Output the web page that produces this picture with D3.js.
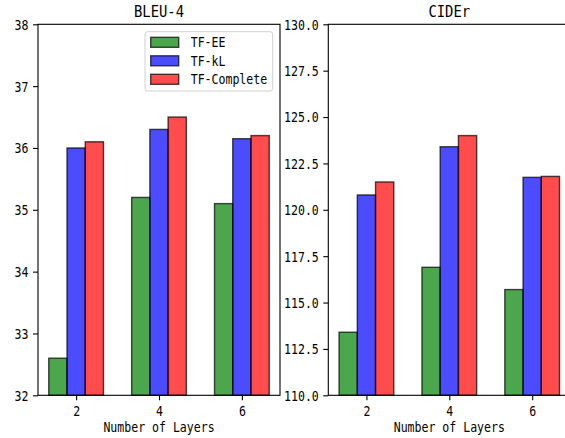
<!DOCTYPE html>
<html>
<head>
<meta charset="utf-8">
<script src="https://cdn.jsdelivr.net/npm/d3@7"></script>
<style>
  html, body { margin: 0; padding: 0; background: #fff; }
  svg { display: block; }
  text { font-family: "DejaVu Sans Mono", "Liberation Mono", monospace; fill: #000; }
</style>
</head>
<body>
<svg id="chart" width="565" height="438"></svg>
<script>
// ---- data ----
const layers = [2, 4, 6];
const seriesNames = ["TF-EE", "TF-kL", "TF-Complete"];
const seriesColors = ["green", "blue", "red"];
const bleuEE = [32.6, 35.2, 35.1];
const bleuKL = [36.0, 36.3, 36.15];
const bleuComplete = [36.1, 36.5, 36.2];
const ciderEE = [113.4, 116.9, 115.7];
const ciderKL = [120.8, 123.4, 121.75];
const ciderComplete = [121.5, 124.0, 121.8];
const bleuTicks = [32, 33, 34, 35, 36, 37, 38];
const ciderTicks = [110.0, 112.5, 115.0, 117.5, 120.0, 122.5, 125.0, 127.5, 130.0];
const panelTitles = ["BLEU-4", "CIDEr"];
const xLabel = "Number of Layers";

const barWidth = 0.44;
const svg = d3.select("#chart");

function fitText(sel, size) {
  sel.style("font-size", size + "px")
     .attr("textLength", function() { return this.textContent.length * size * 0.5; })
     .attr("lengthAdjust", "spacingAndGlyphs");
}

function panel(opts) {
  const { left, right, top, bottom, yDomain, yTicks, yFmt, series, title } = opts;
  const g = svg.append("g");
  const x = d3.scaleLinear().domain([1.08, 6.92]).range([left, right]);
  const y = d3.scaleLinear().domain(yDomain).range([bottom, top]);

  series.forEach((vals, si) => {
    const off = (si - 1) * barWidth;
    g.selectAll(null).data(layers.map((l, i) => ({ l, v: vals[i] })))
      .enter().append("rect")
      .attr("x", d => x(d.l + off - barWidth / 2))
      .attr("width", d => x(d.l + off + barWidth / 2) - x(d.l + off - barWidth / 2))
      .attr("y", d => y(d.v))
      .attr("height", d => y(yDomain[0]) - y(d.v))
      .attr("fill", seriesColors[si])
      .attr("fill-opacity", 0.7)
      .attr("stroke", "#000")
      .attr("stroke-opacity", 0.7)
      .attr("stroke-width", 1.4);
  });

  // spines
  g.append("rect").attr("x", left).attr("y", top)
    .attr("width", right - left).attr("height", bottom - top)
    .attr("fill", "none").attr("stroke", "#000").attr("stroke-width", 1.1);

  const yAxis = g.append("g").attr("transform", `translate(${left},0)`)
    .call(d3.axisLeft(y).tickValues(yTicks).tickFormat(yFmt).tickSize(5).tickPadding(4.5));
  yAxis.select(".domain").remove();
  yAxis.selectAll("line").attr("stroke", "#000").attr("stroke-width", 1.1);
  yAxis.selectAll("text").attr("dy", "0.35em").call(fitText, 13.9);

  const xAxis = g.append("g").attr("transform", `translate(0,${bottom})`)
    .call(d3.axisBottom(x).tickValues(layers).tickFormat(d3.format("d")).tickSize(5).tickPadding(5));
  xAxis.select(".domain").remove();
  xAxis.selectAll("line").attr("stroke", "#000").attr("stroke-width", 1.1);
  xAxis.selectAll("text").attr("dy", "0.75em").call(fitText, 13.9);

  g.append("text").attr("x", (left + right) / 2).attr("y", 432)
    .attr("text-anchor", "middle").text(xLabel).call(fitText, 13.9);

  g.append("text").attr("x", (left + right) / 2).attr("y", 16.5)
    .attr("text-anchor", "middle").text(title).call(fitText, 16.67);
  return g;
}

panel({ left: 38, right: 280, top: 24.3, bottom: 395.3, yDomain: [32, 38], yTicks: bleuTicks,
        yFmt: d3.format("d"), series: [bleuEE, bleuKL, bleuComplete], title: panelTitles[0] });
panel({ left: 328.3, right: 570.3, top: 24.3, bottom: 395.3, yDomain: [110, 130], yTicks: ciderTicks,
        yFmt: d3.format(".1f"), series: [ciderEE, ciderKL, ciderComplete], title: panelTitles[1] });

// legend
const lg = svg.append("g");
lg.append("rect").attr("x", 145).attr("y", 31.7).attr("width", 127.7).attr("height", 59.3)
  .attr("rx", 2.5).attr("fill", "#fff").attr("fill-opacity", 0.8)
  .attr("stroke", "#d0d0d0").attr("stroke-width", 1);
seriesNames.forEach((name, i) => {
  const cy = 42.3 + i * 18.5;
  lg.append("rect").attr("x", 150.7).attr("y", cy - 5).attr("width", 28).attr("height", 10)
    .attr("fill", seriesColors[i]).attr("fill-opacity", 0.7)
    .attr("stroke", "#000").attr("stroke-opacity", 0.7).attr("stroke-width", 1.4);
  lg.append("text").attr("x", 190.7).attr("y", cy).attr("dy", "0.35em")
    .text(name).call(fitText, 13.9);
});
</script>
</body>
</html>
